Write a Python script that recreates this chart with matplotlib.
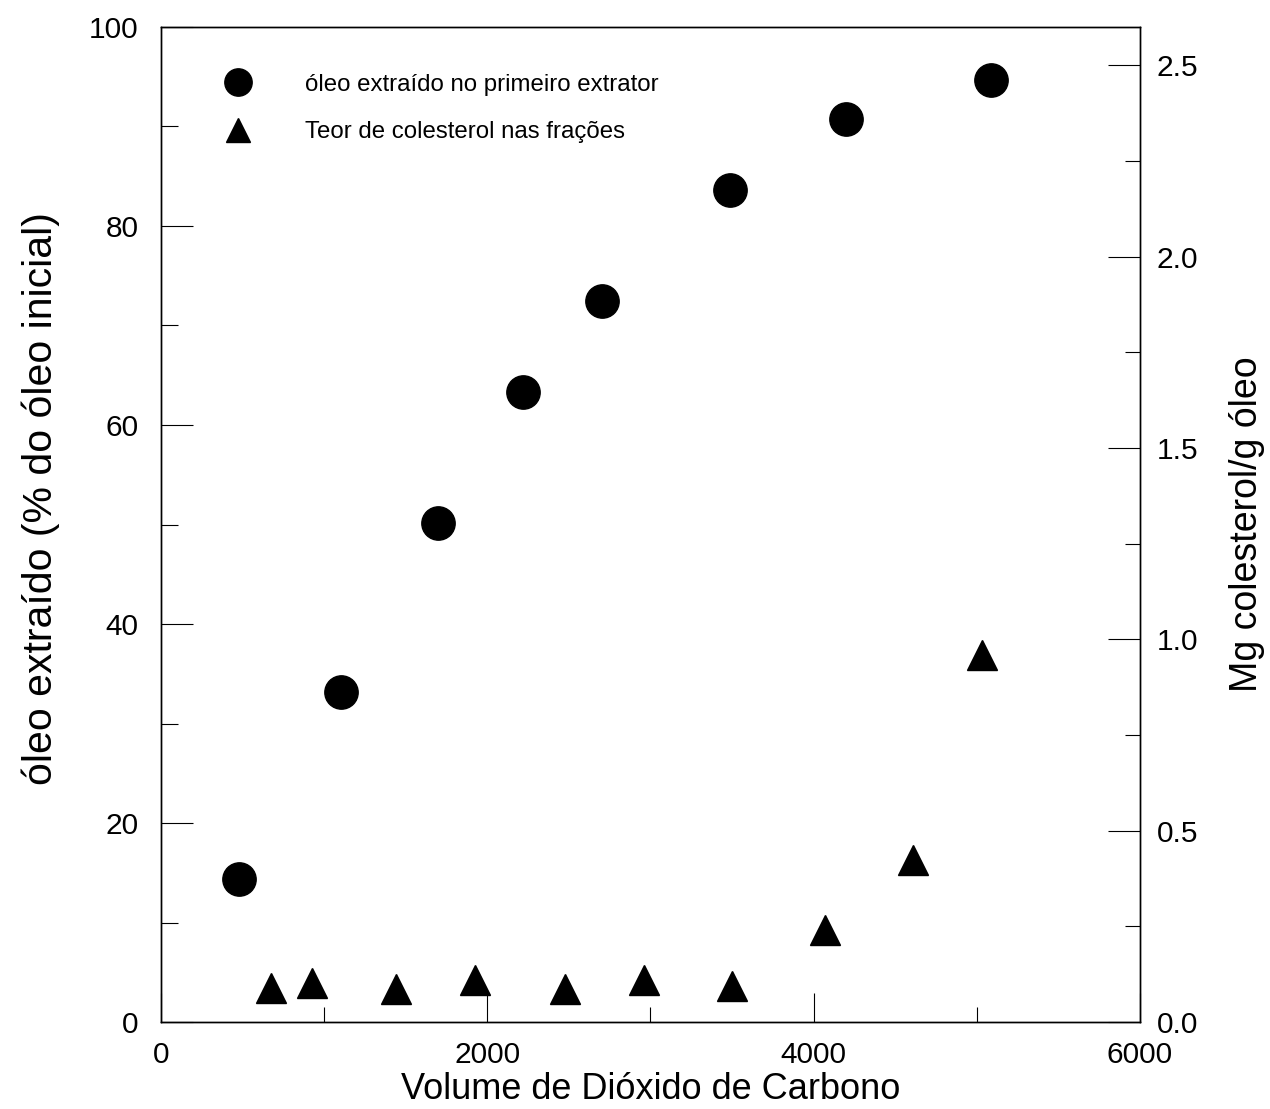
import matplotlib
matplotlib.use('Agg')
import matplotlib.pyplot as plt
from matplotlib.ticker import MultipleLocator

plt.rcParams.update({
    'font.family': ['Liberation Sans', 'DejaVu Sans'],
    'font.size': 21,
    'axes.linewidth': 1.0,
})

# oil extracted in first extractor (% of initial oil), left axis
vol_oleo = [480, 1100, 1700, 2220, 2700, 3490, 4200, 5090]
oleo_extraido = [14.4, 33.2, 50.2, 63.3, 72.5, 83.6, 90.7, 94.7]

# cholesterol content in fractions (mg/g oil), right axis
vol_colest = [675, 926, 1442, 1926, 2479, 2963, 3497, 4067, 4607, 5031]
colesterol = [0.089, 0.102, 0.086, 0.110, 0.086, 0.110, 0.094, 0.240, 0.423, 0.958]

label_oleo = 'óleo extraído no primeiro extrator'
label_colest = 'Teor de colesterol nas frações'

fig = plt.figure(figsize=(12.7, 11.09), dpi=100)
ax = fig.add_axes([0.1268, 0.0784, 0.7708, 0.8973])
ax2 = ax.twinx()

p1, = ax.plot(vol_oleo, oleo_extraido, 'o', color='black', markersize=24,
              label=label_oleo, zorder=3)
p2, = ax2.plot(vol_colest, colesterol, '^', color='black', markersize=21,
               label=label_colest, zorder=3)

ax.set_xlim(0, 6000)
ax.set_ylim(0, 100)
ax2.set_ylim(0, 2.6)

ax.xaxis.set_major_locator(MultipleLocator(2000))
ax.xaxis.set_minor_locator(MultipleLocator(1000))
ax.yaxis.set_major_locator(MultipleLocator(20))
ax.yaxis.set_minor_locator(MultipleLocator(10))
ax2.yaxis.set_major_locator(MultipleLocator(0.5))
ax2.yaxis.set_minor_locator(MultipleLocator(0.25))
ax2.yaxis.set_major_formatter(plt.FormatStrFormatter('%.1f'))

ax.tick_params(axis='x', which='major', direction='in', length=21, width=0.8, pad=14, labelsize=21.5)
ax.tick_params(axis='x', which='minor', direction='in', length=11, width=0.8)
ax.tick_params(axis='y', which='major', direction='in', length=23, width=0.8, pad=16, labelsize=21.5)
ax.tick_params(axis='y', which='minor', direction='in', length=12, width=0.8)
ax2.tick_params(axis='y', which='major', direction='in', length=23, width=0.8, pad=12, labelsize=21.5)
ax2.tick_params(axis='y', which='minor', direction='in', length=11, width=0.8)
ax.tick_params(top=False, which='both')

ax.set_xlabel('Volume de Dióxido de Carbono', fontsize=26, labelpad=2)
ax.set_ylabel('óleo extraído (% do óleo inicial)', fontsize=29.5)
ax.yaxis.set_label_coords(-0.103, 0.526)
ax2.set_ylabel('Mg colesterol/g óleo', fontsize=27, labelpad=22)

ax.legend(handles=[p1, p2], loc='upper left', bbox_to_anchor=(0.054, 0.953),
          frameon=False, fontsize=17.3, borderaxespad=0, borderpad=0,
          handlelength=2.0, handletextpad=1.8, labelspacing=1.05,
          markerscale=0.82)

plt.savefig('out.png', dpi=100)
